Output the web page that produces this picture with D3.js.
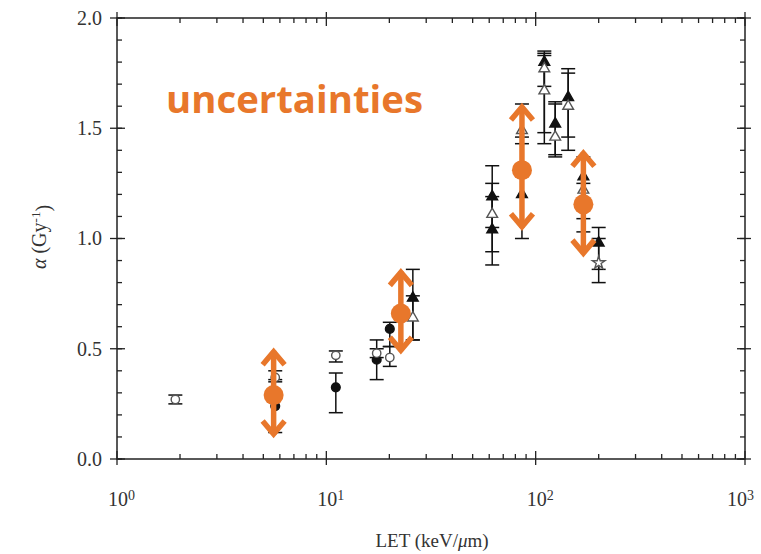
<!DOCTYPE html>
<html>
<head>
<meta charset="utf-8">
<script src="https://cdn.jsdelivr.net/npm/d3@7"></script>
<style>
  body { margin: 0; background: #fff; }
  svg { display: block; }
</style>
</head>
<body>
<svg id="chart" width="761" height="554"></svg>
<script>
// measured points (LET in keV/um, alpha in Gy^-1)
var pointLET   = [1.9, 5.7, 5.7, 11.1, 11.1, 17.4, 17.4, 20.1, 20.1, 25.9, 25.9,
                  62, 62, 62, 86, 86, 110, 110, 110, 124, 124, 143, 143, 169, 169, 200, 200];
var pointAlpha = [0.27, 0.24, 0.37, 0.325, 0.47, 0.45, 0.48, 0.59, 0.46, 0.73, 0.64,
                  1.19, 1.11, 1.04, 1.49, 1.20, 1.80, 1.77, 1.67, 1.52, 1.46, 1.64, 1.60, 1.28, 1.22, 0.98, 0.89];
var pointLow   = [0.25, 0.12, 0.35, 0.21, 0.44, 0.36, 0.46, 0.51, 0.42, 0.54, 0.54,
                  1.05, 0.94, 0.88, 1.43, 1.00, 1.43, 1.69, 1.48, 1.38, 1.37, 1.40, 1.46, 1.09, 1.03, 0.86, 0.80];
var pointHigh  = [0.29, 0.36, 0.40, 0.39, 0.49, 0.54, 0.50, 0.62, 0.51, 0.86, 0.74,
                  1.33, 1.25, 1.19, 1.61, 1.46, 1.84, 1.85, 1.83, 1.62, 1.61, 1.77, 1.75, 1.37, 1.25, 1.05, 1.00];
var pointShape = ["openCircle", "filledCircle", "openCircle", "filledCircle", "openCircle", "filledCircle", "openCircle",
                  "filledCircle", "openCircle", "filledTri", "openTri",
                  "filledTri", "openTri", "filledTri", "openTri", "filledTri", "filledTri", "openTri", "openTri",
                  "filledTri", "openTri", "filledTri", "openTri", "filledTri", "openTri", "filledTri", "openStar"];

// highlighted estimates with their uncertainty range
var markLET   = [5.6, 22.7, 86, 169];
var markAlpha = [0.29, 0.66, 1.31, 1.155];
var markLow   = [0.10, 0.48, 1.04, 0.92];
var markHigh  = [0.50, 0.86, 1.61, 1.40];

var xTickExps = [0, 1, 2, 3];
var yTicks = [0, 0.5, 1.0, 1.5, 2.0];

var orange = "#E8772B";
var svg = d3.select("#chart");

var x = d3.scaleLog().domain([1, 1000]).range([117, 745]);
var y = d3.scaleLinear().domain([0, 2]).range([459, 18]);

var minorX = [];
[1, 10, 100].forEach(function(d) {
  for (var k = 2; k <= 9; k++) minorX.push(d * k);
});
var minorY = d3.range(0, 21).map(function(i) { return i / 10; });
var majorX = xTickExps.map(function(e) { return Math.pow(10, e); });

// frame
svg.append("rect")
  .attr("x", x(1)).attr("y", y(2))
  .attr("width", x(1000) - x(1)).attr("height", y(0) - y(2))
  .attr("fill", "none").attr("stroke", "#222").attr("stroke-width", 1.5);

var ticks = svg.append("g").attr("stroke", "#222").attr("stroke-width", 1.3);
// minor ticks, inside on all four sides
minorX.forEach(function(v) {
  ticks.append("line").attr("x1", x(v)).attr("x2", x(v)).attr("y1", y(0)).attr("y2", y(0) - 5);
  ticks.append("line").attr("x1", x(v)).attr("x2", x(v)).attr("y1", y(2)).attr("y2", y(2) + 5);
});
minorY.forEach(function(v) {
  ticks.append("line").attr("x1", x(1)).attr("x2", x(1) + 5).attr("y1", y(v)).attr("y2", y(v));
  ticks.append("line").attr("x1", x(1000)).attr("x2", x(1000) - 5).attr("y1", y(v)).attr("y2", y(v));
});
// major ticks cross the frame
majorX.forEach(function(v) {
  ticks.append("line").attr("x1", x(v)).attr("x2", x(v)).attr("y1", y(0) - 8).attr("y2", y(0) + 6);
  ticks.append("line").attr("x1", x(v)).attr("x2", x(v)).attr("y1", y(2) - 6).attr("y2", y(2) + 8);
});
yTicks.forEach(function(v) {
  ticks.append("line").attr("x1", x(1) - 7).attr("x2", x(1) + 8).attr("y1", y(v)).attr("y2", y(v));
  ticks.append("line").attr("x1", x(1000) + 6).attr("x2", x(1000) - 8).attr("y1", y(v)).attr("y2", y(v));
});

// axis labels via d3 axes (lines hidden, the frame draws them)
var xAxis = svg.append("g")
  .attr("transform", "translate(0," + y(0) + ")")
  .call(d3.axisBottom(x).tickValues(majorX).tickSize(0).tickPadding(33).tickFormat(""));
xAxis.select(".domain").remove();
xAxis.selectAll(".tick text").each(function(d) {
  var t = d3.select(this);
  t.append("tspan").text("10");
  t.append("tspan").attr("dy", "-0.45em").attr("font-size", "14px").text(Math.round(Math.log10(d)));
});
xAxis.selectAll("text")
  .attr("font-family", "Liberation Serif, serif").attr("font-size", "20px").attr("fill", "#333")
  .attr("text-anchor", "middle")
  .attr("dx", function(d) { return d === 1000 ? -5 : 4; });

var yAxis = svg.append("g")
  .attr("transform", "translate(" + x(1) + ",0)")
  .call(d3.axisLeft(y).tickValues(yTicks).tickSize(0).tickPadding(15).tickFormat(d3.format(".1f")));
yAxis.select(".domain").remove();
yAxis.selectAll("text")
  .attr("font-family", "Liberation Serif, serif").attr("font-size", "20px").attr("fill", "#333");

// axis titles
svg.append("text")
  .attr("x", 432).attr("y", 547)
  .attr("text-anchor", "middle")
  .attr("font-family", "Liberation Serif, serif").attr("font-size", "19px").attr("fill", "#333")
  .html('LET (keV/<tspan font-style="italic">μ</tspan>m)');

var yTitle = svg.append("text")
  .attr("transform", "translate(46,237) rotate(-90)")
  .attr("text-anchor", "middle")
  .attr("font-family", "Liberation Serif, serif").attr("font-size", "20px").attr("fill", "#333");
yTitle.append("tspan").attr("font-style", "italic").text("α");
yTitle.append("tspan").text(" (Gy");
yTitle.append("tspan").attr("dy", "-0.5em").attr("font-size", "13px").text("-1");
yTitle.append("tspan").attr("dy", "0.5em").text(")");

// error bars
var idx = d3.range(pointLET.length);
var bars = svg.append("g").attr("stroke", "#111").attr("stroke-width", 1.5);
idx.forEach(function(i) {
  var cx = x(pointLET[i]);
  bars.append("line").attr("x1", cx).attr("x2", cx).attr("y1", y(pointLow[i])).attr("y2", y(pointHigh[i]));
  [pointLow[i], pointHigh[i]].forEach(function(v) {
    bars.append("line").attr("x1", cx - 7).attr("x2", cx + 7).attr("y1", y(v)).attr("y2", y(v));
  });
});

// markers
var symbolFor = {
  filledCircle: [d3.symbolCircle, 60, "#111"],
  openCircle: [d3.symbolCircle, 55, "#fff"],
  filledTri: [d3.symbolTriangle, 50, "#111"],
  openTri: [d3.symbolTriangle, 50, "#fff"],
  openStar: [d3.symbolStar, 50, "#fff"]
};
svg.append("g").selectAll("path")
  .data(idx)
  .join("path")
  .attr("transform", function(i) { return "translate(" + x(pointLET[i]) + "," + y(pointAlpha[i]) + ")"; })
  .attr("d", function(i) { var s = symbolFor[pointShape[i]]; return d3.symbol().type(s[0]).size(s[1])(); })
  .attr("fill", function(i) { return symbolFor[pointShape[i]][2]; })
  .attr("stroke", function(i) { return pointShape[i].indexOf("open") === 0 ? "#555" : "#111"; })
  .attr("stroke-width", 1.4);

// orange uncertainty arrows
var marks = svg.append("g").attr("stroke", orange).attr("fill", "none").attr("stroke-width", 5.5);
d3.range(markLET.length).forEach(function(i) {
  var cx = x(markLET[i]), top = y(markHigh[i]), bot = y(markLow[i]);
  marks.append("line").attr("x1", cx).attr("x2", cx).attr("y1", top + 2).attr("y2", bot - 2);
  marks.append("polyline").attr("points", [[cx - 11, top + 16], [cx, top + 3], [cx + 11, top + 16]].join(" "));
  marks.append("polyline").attr("points", [[cx - 11, bot - 16], [cx, bot - 3], [cx + 11, bot - 16]].join(" "));
  marks.append("circle").attr("cx", cx).attr("cy", y(markAlpha[i])).attr("r", 10)
    .attr("fill", orange).attr("stroke", "none");
});

svg.append("text")
  .attr("x", 166).attr("y", 113)
  .attr("font-family", "Open Sans, sans-serif").attr("font-weight", "bold").attr("font-size", "38px")
  .attr("fill", orange)
  .attr("textLength", 257).attr("lengthAdjust", "spacingAndGlyphs")
  .text("uncertainties");
</script>
</body>
</html>
